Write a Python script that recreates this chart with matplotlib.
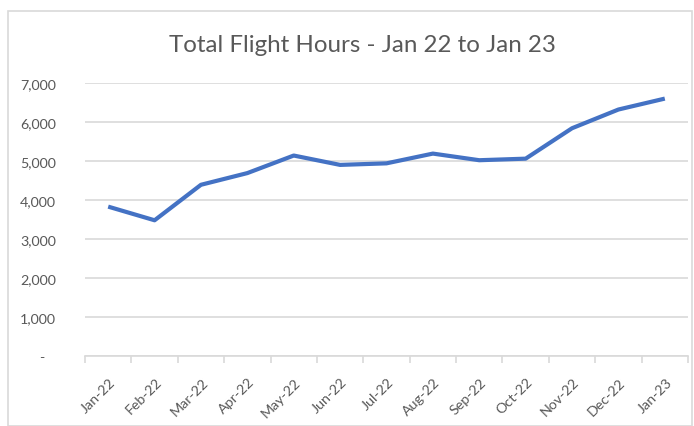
import matplotlib
matplotlib.use("Agg")
import matplotlib.pyplot as plt
import matplotlib.transforms as mtrans
from matplotlib.ticker import FixedLocator, FuncFormatter
from matplotlib.patches import Rectangle

months = ["Jan-22", "Feb-22", "Mar-22", "Apr-22", "May-22", "Jun-22", "Jul-22",
          "Aug-22", "Sep-22", "Oct-22", "Nov-22", "Dec-22", "Jan-23"]
flight_hours = [3830, 3480, 4390, 4690, 5140, 4900, 4940, 5190, 5020, 5060, 5840, 6320, 6600]
y_ticks = [0, 1000, 2000, 3000, 4000, 5000, 6000, 7000]
title = "Total Flight Hours - Jan 22 to Jan 23"

plt.rcParams['font.family'] = ['Lato', 'DejaVu Sans']
text_col = "#595959"
grid_col = "#D9D9D9"

fig = plt.figure(figsize=(6.94, 4.27), dpi=100)
fig.patch.set_facecolor("white")
# chart border
fig.add_artist(Rectangle((8/694, 0), (694-8-2)/694, (427-12)/427, transform=fig.transFigure,
                         fill=False, edgecolor=grid_col, linewidth=1.2))

ax = fig.add_axes([85/694, (427-357)/427, (688-85)/694, (357-84)/427])
x = list(range(len(months)))
ax.plot(x, flight_hours, color="#4472C4", linewidth=3.0, solid_capstyle="butt", solid_joinstyle="round")

ax.set_xlim(-0.5, len(months) - 0.5)
ax.set_ylim(0, 7000)
ax.set_yticks(y_ticks)
ax.yaxis.set_major_formatter(FuncFormatter(lambda v, p: "-   " if v == 0 else f"{int(v):,}"))
ax.grid(axis="y", color=grid_col, linewidth=1.2)
ax.set_axisbelow(True)
for s in ["top", "right", "left"]:
    ax.spines[s].set_visible(False)
ax.spines["bottom"].set_color(grid_col)
ax.spines["bottom"].set_linewidth(1.2)
ax.tick_params(axis="y", length=0, pad=21, labelsize=10.3, labelcolor=text_col)

ax.set_xticks(x)
ax.set_xticklabels(months, rotation=45, ha="right", va="center", rotation_mode="anchor")
ax.tick_params(axis="x", which="major", length=0, pad=17, labelsize=10.3, labelcolor=text_col)
ax.xaxis.set_minor_locator(FixedLocator([i - 0.5 for i in range(len(months) + 1)]))
ax.tick_params(axis="x", which="minor", length=5, color=grid_col, width=1.2)
for lbl in ax.get_xticklabels():
    lbl.set_transform(lbl.get_transform() + mtrans.ScaledTranslation(5/100, 0, fig.dpi_scale_trans))

fig.text(362/694, 1 - 45/427, title, ha="center", va="center", fontsize=17.4, color=text_col)

fig.savefig("out.png", dpi=100, facecolor="white")
